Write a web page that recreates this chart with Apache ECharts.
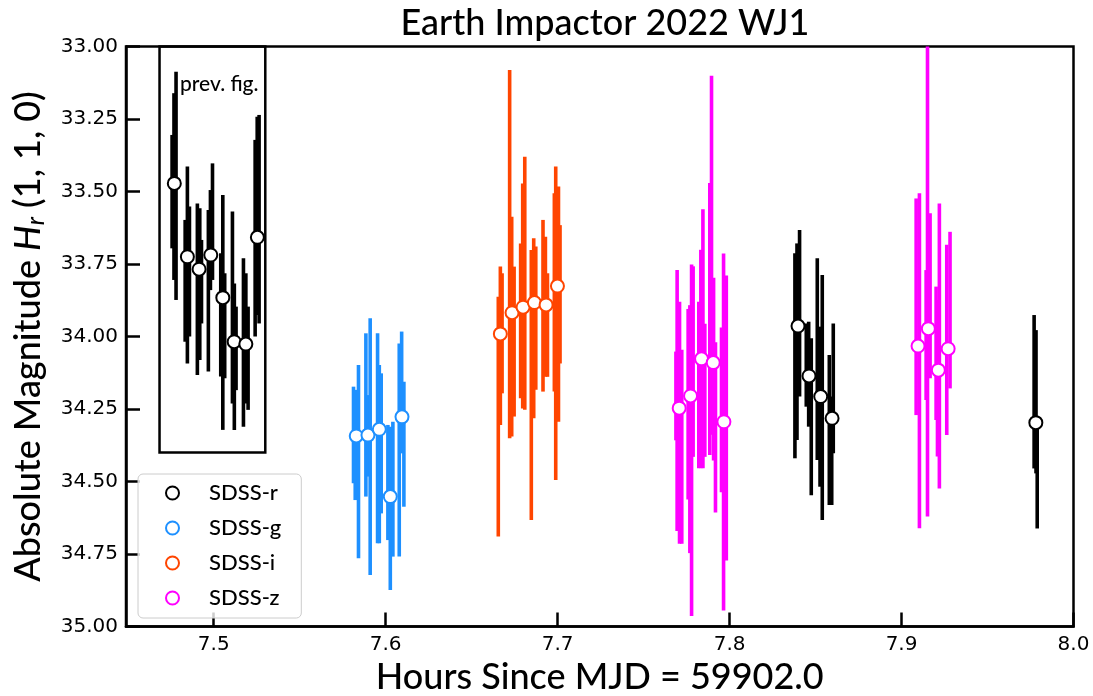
<!DOCTYPE html>
<html>
<head>
<meta charset="utf-8">
<script src="https://cdn.jsdelivr.net/npm/echarts@6/dist/echarts.min.js"></script>
<style>html,body{margin:0;padding:0;background:#fff}#c{width:1093px;height:696px}</style>
</head>
<body>
<div id="c"></div>
<script>
// ---- data (x = hours since MJD 59902.0, y = absolute magnitude) ----
const xTicks = [7.5, 7.6, 7.7, 7.8, 7.9, 8.0];
const seriesNames = ['SDSS-r', 'SDSS-g', 'SDSS-i', 'SDSS-z'];
const seriesColors = ['#000000', '#1E90FF', '#FF4500', '#FF00FF'];

// individual measurements: [x, upper (bright) end, lower (faint) end]
const rBars = [
  [7.4758, 33.305, 33.696], [7.4769, 33.161, 33.805], [7.4781, 33.087, 33.874],
  [7.4834, 33.598, 34.018], [7.4847, 33.414, 34.093], [7.4859, 33.552, 34.000],
  [7.4905, 33.541, 34.133], [7.4919, 33.558, 34.081], [7.4929, 33.667, 33.955],
  [7.4969, 33.564, 34.121], [7.4981, 33.495, 33.840], [7.4993, 33.403, 33.805],
  [7.5041, 33.713, 34.138], [7.5053, 33.512, 34.322], [7.5064, 33.782, 34.144],
  [7.5109, 33.569, 34.231], [7.5120, 33.817, 34.322], [7.5130, 33.897, 34.185],
  [7.5173, 33.730, 34.311], [7.5187, 33.782, 34.231], [7.5200, 33.897, 34.253],
  [7.5241, 33.322, 34.000], [7.5253, 33.242, 33.926], [7.5264, 33.236, 33.955],
  [7.8380, 33.713, 34.420], [7.8392, 33.679, 34.357], [7.8407, 33.633, 34.207],
  [7.8446, 33.955, 34.242], [7.8460, 33.949, 34.311], [7.8475, 34.006, 34.547],
  [7.8510, 33.730, 34.426], [7.8526, 33.966, 34.518], [7.8539, 33.788, 34.633],
  [7.8580, 34.064, 34.581], [7.8594, 34.207, 34.581], [7.8603, 33.955, 34.403],
  [7.9771, 33.926, 34.455], [7.9782, 33.978, 34.472], [7.9789, 34.288, 34.662]
];
const gBars = [
  [7.5813, 34.173, 34.506], [7.5823, 34.184, 34.564], [7.5842, 34.098, 34.765],
  [7.5885, 33.989, 34.552], [7.5897, 34.202, 34.483], [7.5910, 33.937, 34.822],
  [7.5953, 33.989, 34.713], [7.5963, 34.098, 34.713], [7.5974, 34.127, 34.610],
  [7.6013, 34.305, 34.702], [7.6027, 34.311, 34.874], [7.6042, 34.294, 34.759],
  [7.6079, 34.024, 34.759], [7.6093, 33.983, 34.403], [7.6106, 34.156, 34.587]
];
const iBars = [
  [7.6655, 33.863, 34.690], [7.6667, 33.759, 34.305], [7.6677, 33.782, 34.196],
  [7.6721, 33.081, 34.351], [7.6733, 33.587, 34.345], [7.6747, 33.759, 34.276],
  [7.6785, 33.679, 34.213], [7.6797, 33.472, 34.248], [7.6809, 33.380, 34.253],
  [7.6847, 33.702, 34.633], [7.6861, 33.661, 34.282], [7.6873, 33.690, 34.184],
  [7.6915, 33.598, 34.190], [7.6929, 33.656, 34.139], [7.6941, 33.782, 34.139],
  [7.6981, 33.506, 34.190], [7.6989, 33.414, 34.495], [7.7005, 33.483, 34.294],
  [7.7014, 33.616, 34.093]
];
const zBars = [
  [7.7688, 34.052, 34.358], [7.7695, 33.771, 34.671], [7.7709, 33.880, 34.715], [7.7722, 34.046, 34.715],
  [7.7759, 33.905, 34.562], [7.7769, 33.892, 34.747], [7.7779, 33.752, 34.964], [7.7788, 33.758, 34.415],
  [7.7821, 33.880, 34.454], [7.7833, 33.701, 34.454], [7.7845, 33.561, 34.454], [7.7856, 33.956, 34.415],
  [7.7885, 33.471, 34.409], [7.7895, 33.101, 34.339], [7.7907, 33.797, 34.428], [7.7918, 34.020, 34.607],
  [7.7953, 33.969, 34.537], [7.7965, 33.714, 34.945], [7.7981, 33.790, 34.772],
  [7.9085, 33.524, 34.271], [7.9104, 33.506, 34.661],
  [7.9143, 33.771, 34.219], [7.9151, 33.000, 34.621], [7.9166, 33.575, 34.144],
  [7.9201, 33.828, 34.288], [7.9209, 33.874, 34.414], [7.9220, 33.541, 34.524],
  [7.9263, 33.684, 34.340], [7.9282, 33.639, 34.179]
];

// binned means: [x, magnitude]
const rMeans = [
  [7.4771, 33.472], [7.4847, 33.725], [7.4915, 33.768], [7.4983, 33.719],
  [7.5053, 33.866], [7.5119, 34.018], [7.5187, 34.026], [7.5254, 33.658],
  [7.8398, 33.964], [7.8462, 34.136], [7.8530, 34.207], [7.8596, 34.282],
  [7.9781, 34.297]
];
const gMeans = [[7.5829, 34.343], [7.5897, 34.340], [7.5963, 34.320], [7.6027, 34.552], [7.6095, 34.277]];
const iMeans = [[7.6667, 33.991], [7.6735, 33.918], [7.6799, 33.899], [7.6865, 33.883], [7.6933, 33.891], [7.6999, 33.826]];
const zMeans = [
  [7.7707, 34.247], [7.7773, 34.205], [7.7837, 34.077], [7.7905, 34.090], [7.7967, 34.294],
  [7.9096, 34.033], [7.9156, 33.973], [7.9214, 34.116], [7.9271, 34.042]
];

// "previous figure" region: [xLeft, xRight, yTop, yBottom]
const prevBox = [7.4685, 7.5300, 33.0, 34.40];
const prevLabel = 'prev. fig.';

const titleFont = 'Lato, "Noto Sans", sans-serif';
const tickFont = '"DejaVu Sans", sans-serif';

const chart = echarts.init(document.getElementById('c'), null, {renderer: 'canvas'});

function errSeries(data, color) {
  return {
    type: 'custom',
    data: data,
    encode: {x: 0, y: [1, 2]},
    silent: true,
    z: 2,
    renderItem: function (params, api) {
      const p1 = api.coord([api.value(0), api.value(1)]);
      const p2 = api.coord([api.value(0), api.value(2)]);
      return {
        type: 'line',
        shape: {x1: p1[0], y1: p1[1], x2: p2[0], y2: p2[1]},
        style: {stroke: color, lineWidth: 3.6}
      };
    }
  };
}
function meanSeries(name, data, color) {
  return {
    type: 'scatter', name: name, data: data, z: 5,
    symbol: 'circle', symbolSize: 13,
    itemStyle: {color: '#ffffff', borderColor: color, borderWidth: 2, opacity: 1},
    emphasis: {disabled: true}
  };
}

const option = {
  animation: false,
  backgroundColor: '#ffffff',
  title: {
    text: 'Earth Impactor 2022 WJ1',
    left: 600, top: 0, textAlign: 'center',
    textStyle: {fontFamily: titleFont, fontSize: 36, fontWeight: 500, color: '#000'}
  },
  grid: {
    left: 126, right: 19.5, top: 46.5, bottom: 69.5,
    outerBoundsMode: 'none', containLabel: false,
    show: true, borderColor: '#000', borderWidth: 2.5, backgroundColor: 'transparent'
  },
  xAxis: {
    type: 'value', min: 7.449, max: 8.0,
    name: 'Hours Since MJD = 59902.0', nameLocation: 'middle', nameGap: 30,
    nameTextStyle: {fontFamily: titleFont, fontSize: 36, fontWeight: 500, color: '#000'},
    axisLine: {show: true, lineStyle: {color: '#000', width: 2.5}},
    axisTick: {show: true, inside: true, length: 14, lineStyle: {color: '#000', width: 2.5}, customValues: xTicks},
    axisLabel: {customValues: xTicks, formatter: v => v.toFixed(1), fontFamily: tickFont, fontSize: 20, color: '#000', margin: 8},
    splitLine: {show: false}
  },
  yAxis: {
    type: 'value', inverse: true, min: 33, max: 35, interval: 0.25,
    name: '{a|Absolute Magnitude }{h|H}{s|r}{a| (1, 1, 0)}',
    nameLocation: 'middle', nameRotate: 90, nameGap: 78,
    nameTextStyle: {
      fontFamily: titleFont, fontSize: 36, color: '#000',
      rich: {
        a: {fontFamily: titleFont, fontSize: 36, fontWeight: 500, color: '#000'},
        h: {fontFamily: titleFont, fontSize: 36, fontWeight: 500, fontStyle: 'italic', color: '#000'},
        s: {fontFamily: titleFont, fontSize: 24, fontWeight: 500, fontStyle: 'italic', color: '#000', padding: [16, 0, 0, 0]}
      }
    },
    axisLine: {show: true, lineStyle: {color: '#000', width: 2.5}},
    axisTick: {show: true, inside: true, length: 14, lineStyle: {color: '#000', width: 2.5}},
    axisLabel: {formatter: v => v.toFixed(2), fontFamily: tickFont, fontSize: 20, color: '#000', margin: 8},
    splitLine: {show: false}
  },
  legend: {
    orient: 'vertical', left: 138, top: 474,
    padding: [8, 20, 9, 27], itemGap: 13, itemWidth: 13, itemHeight: 13,
    backgroundColor: 'rgba(255,255,255,0.8)', borderColor: '#cccccc', borderWidth: 1, borderRadius: 5,
    selectedMode: false,
    textStyle: {fontFamily: titleFont, fontSize: 22, fontWeight: 500, color: '#000', lineHeight: 21, padding: [0, 0, 0, 25]},
    data: seriesNames.map((n, k) => ({
      name: n, icon: 'circle',
      itemStyle: {color: '#ffffff', borderColor: seriesColors[k], borderWidth: 2}
    }))
  },
  graphic: [{
    type: 'text', left: 180, top: 74, z: 10,
    style: {text: prevLabel, fontFamily: titleFont, fontSize: 21, fontWeight: 500, fill: '#000'}
  }],
  series: [
    {
      type: 'custom', data: [prevBox], silent: true, z: 3,
      encode: {x: [0, 1], y: [2, 3]},
      renderItem: function (params, api) {
        const a = api.coord([api.value(0), api.value(2)]);
        const b = api.coord([api.value(1), api.value(3)]);
        return {type: 'rect', shape: {x: a[0], y: a[1], width: b[0] - a[0], height: b[1] - a[1]},
                style: {fill: 'none', stroke: '#000', lineWidth: 2.5}};
      }
    },
    errSeries(rBars, seriesColors[0]),
    errSeries(gBars, seriesColors[1]),
    errSeries(iBars, seriesColors[2]),
    errSeries(zBars, seriesColors[3]),
    meanSeries(seriesNames[0], rMeans, seriesColors[0]),
    meanSeries(seriesNames[1], gMeans, seriesColors[1]),
    meanSeries(seriesNames[2], iMeans, seriesColors[2]),
    meanSeries(seriesNames[3], zMeans, seriesColors[3])
  ]
};
chart.setOption(option);
</script>
</body>
</html>
